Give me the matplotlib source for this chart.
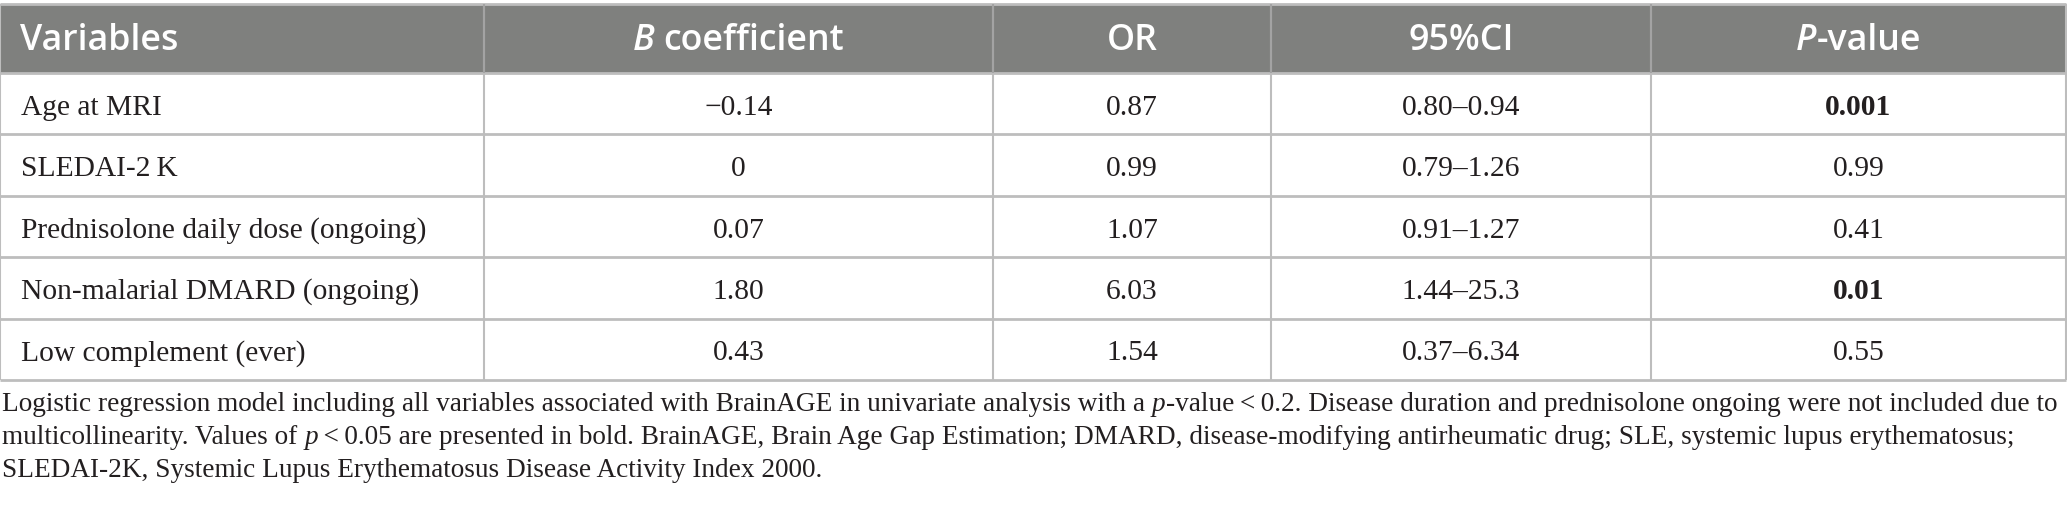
import matplotlib
matplotlib.use("Agg")
import matplotlib.pyplot as plt
from matplotlib.patches import Rectangle

# ---------------- data ----------------
variables = ["Age at MRI", "SLEDAI-2\u2009K", "Prednisolone daily dose (ongoing)",
             "Non-malarial DMARD (ongoing)", "Low complement (ever)"]
b_coefficient = ["\u22120.14", "0", "0.07", "1.80", "0.43"]
odds_ratio = ["0.87", "0.99", "1.07", "6.03", "1.54"]
ci_95 = ["0.80\u20130.94", "0.79\u20131.26", "0.91\u20131.27", "1.44\u201325.3", "0.37\u20136.34"]
p_value = ["0.001", "0.99", "0.41", "0.01", "0.55"]
header_runs = [
    [("Variables", "normal")],
    [("B", "italic"), (" coefficient", "normal")],
    [("OR", "normal")],
    [("95%CI", "normal")],
    [("P", "italic"), ("-value", "normal")],
]
footnote_lines = [
    [("Logistic regression model including all variables associated with BrainAGE in univariate analysis with a ", "normal"),
     ("p", "italic"),
     ("-value\u2009<\u20090.2. Disease duration and prednisolone ongoing were not included due to", "normal")],
    [("multicollinearity. Values of ", "normal"), ("p", "italic"),
     ("\u2009<\u20090.05 are presented in bold. BrainAGE, Brain Age Gap Estimation; DMARD, disease-modifying antirheumatic drug; SLE, systemic lupus erythematosus;", "normal")],
    [("SLEDAI-2K, Systemic Lupus Erythematosus Disease Activity Index 2000.", "normal")],
]

# ---------------- layout ----------------
W, H = 2067, 508
col_edges = [0, 484, 993, 1271, 1651, 2066]
table_top, header_bottom, table_bottom = 4, 73, 380
n_rows = len(variables)
row_h = (table_bottom - header_bottom) / n_rows
foot_baselines = [411, 444, 477]

HEAD_BG = "#7f807e"
LINE = "#bdbdbd"
TXT = "#231f20"
SERIF = ["Liberation Serif", "DejaVu Serif"]
SANS = ["Open Sans", "DejaVu Sans"]

fig = plt.figure(figsize=(W / 100, H / 100), dpi=100)
ax = fig.add_axes([0, 0, 1, 1])
ax.set_xlim(0, W)
ax.set_ylim(H, 0)
ax.axis("off")
renderer = fig.canvas.get_renderer()


def twidth(s, **kw):
    t = ax.text(0, 0, s, **kw)
    w = t.get_window_extent(renderer).width
    t.remove()
    return w


def fit_size(s, target, **kw):
    w = twidth(s, fontsize=20, **kw)
    return 20 * target / w


def draw_runs(x, y, runs, ha, base):
    pieces = []
    total = 0.0
    for s, style in runs:
        kw = dict(base)
        kw["fontstyle"] = style
        sp = twidth("a a", **kw) - twidth("aa", **kw)
        lead = len(s) - len(s.lstrip(" "))
        trail = len(s) - len(s.rstrip(" "))
        core = s.strip(" ")
        cw = twidth(core, **kw) if core else 0.0
        pieces.append((core, kw, lead * sp, cw, trail * sp))
        total += lead * sp + cw + trail * sp
    cur = x - total / 2 if ha == "center" else x
    for core, kw, l, cw, t in pieces:
        cur += l
        if core:
            ax.text(cur, y, core, ha="left", va="baseline", **kw)
        cur += cw + t


# font sizes fitted to measured widths in the reference
head_fs = fit_size("B coefficient", 214, family=SANS, fontweight="semibold")
body_fs = fit_size("Non-malarial DMARD (ongoing)", 398, family=SERIF)
foot_fs = fit_size("".join(s for s, _ in footnote_lines[0]), 2056, family=SERIF)

# header background
ax.add_patch(Rectangle((col_edges[0], table_top), col_edges[-1] - col_edges[0],
                       header_bottom - table_top, facecolor=HEAD_BG, edgecolor="none", zorder=0))

# grid lines
ax.hlines([table_top], col_edges[0], col_edges[-1], color=LINE, lw=2, zorder=2)
row_lines = [header_bottom + i * row_h for i in range(n_rows + 1)]
ax.hlines(row_lines, col_edges[0], col_edges[-1], color=LINE, lw=2, zorder=2)
ax.vlines(col_edges, table_top, table_bottom, color=LINE, lw=1.5, zorder=2)
ax.vlines(col_edges[1:-1], table_top, header_bottom, color="#a3a3a3", lw=1.5, zorder=3)

# header text
head_base = dict(family=SANS, fontweight="semibold", fontsize=head_fs, color="white")
head_y = (table_top + header_bottom) / 2 + 11
for c, runs in enumerate(header_runs):
    if c == 0:
        draw_runs(col_edges[0] + 20, head_y, runs, "left", head_base)
    else:
        draw_runs((col_edges[c] + col_edges[c + 1]) / 2, head_y, runs, "center", head_base)

# body text
columns = [variables, b_coefficient, odds_ratio, ci_95, p_value]
for r in range(n_rows):
    yb = header_bottom + (r + 0.5) * row_h + 11
    for c, col in enumerate(columns):
        kw = dict(family=SERIF, fontsize=body_fs, color=TXT)
        if c == 4 and float(p_value[r]) < 0.05:
            kw["fontweight"] = "bold"
        if c == 0:
            ax.text(col_edges[0] + 21, yb, col[r], ha="left", va="baseline", **kw)
        else:
            ax.text((col_edges[c] + col_edges[c + 1]) / 2, yb, col[r],
                    ha="center", va="baseline", **kw)

# footnote
foot_base = dict(family=SERIF, fontsize=foot_fs, color=TXT)
for runs, yb in zip(footnote_lines, foot_baselines):
    draw_runs(2, yb, runs, "left", foot_base)

fig.savefig("out.png", dpi=100, facecolor="white")
